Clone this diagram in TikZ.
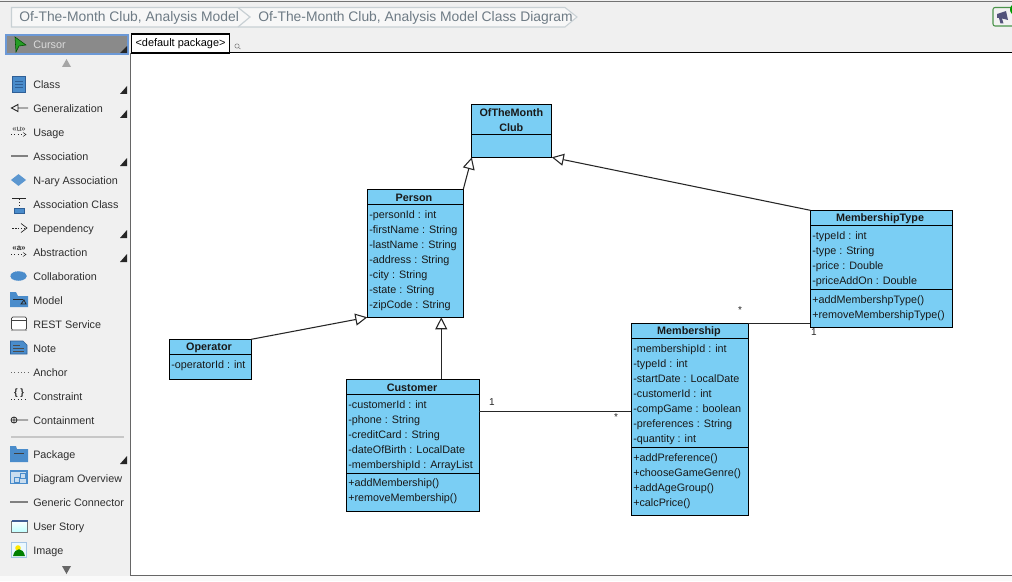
\documentclass[tikz,border=0pt]{standalone}
\usepackage{fontspec}
\setmainfont{Liberation Sans}
\usetikzlibrary{arrows.meta,calc,shapes.geometric}
\definecolor{classfill}{HTML}{7ACEF4}
\definecolor{panel}{HTML}{F0F0F0}
\definecolor{crumb}{HTML}{6E7B85}
\definecolor{crumbline}{HTML}{C8D0D4}
\definecolor{tooltext}{HTML}{2F2F2F}
\definecolor{iconblue}{HTML}{4A8CCB}
\definecolor{icondark}{HTML}{2F5F96}
\definecolor{icongray}{HTML}{808080}
\tikzset{
  x=0.75pt,y=-0.75pt,
  umlbox/.style={draw=black,line width=0.9pt,fill=classfill,anchor=north west,inner sep=0pt,outer sep=0pt},
  umltitle/.style={font=\fontsize{8.1pt}{11.25pt}\selectfont\bfseries,align=center,inner sep=0pt,text=black!90},
  umlattr/.style={font=\fontsize{8.1pt}{11.25pt}\selectfont,align=left,anchor=north west,inner sep=0pt,text=black!90},
  divider/.style={line width=0.75pt,black},
  gen/.style={line width=0.8pt,black!85,-{Triangle[open,fill=white,length=9pt,width=9pt]}},
  assoc/.style={line width=0.75pt,black!85},
  mult/.style={font=\fontsize{7.5pt}{9pt}\selectfont,inner sep=0pt,text=black!85},
  tool/.style={font=\fontsize{8.1pt}{10pt}\selectfont,anchor=west,inner sep=0pt,text=tooltext,text height=6pt,text depth=2pt},
  corner/.style={fill=black!85,draw=none},
  crumbtext/.style={font=\fontsize{10.4pt}{12pt}\selectfont,anchor=west,inner sep=0pt,text=crumb},
  iconline/.style={line width=0.9pt,icongray},
  blackicon/.style={line width=0.6pt,black!85},
  blueicon/.style={fill=iconblue,draw=icondark,line width=0.5pt},
}
\begin{document}
\begin{tikzpicture}
\useasboundingbox (0,0) rectangle (1012,581);
% window
\fill[panel] (0,0) rectangle (1012,581);
\fill[black!2] (0,576) rectangle (1012,581);
\draw[line width=0.9pt,black!55] (0,1.5) -- (1012,1.5);
\fill[white] (131,53) rectangle (1012,575);
\draw[line width=0.9pt,black!60] (130.5,53) -- (130.5,575.5) -- (1012,575.5);
\draw[line width=1.3pt,black] (131,52.5) -- (1012,52.5);
% breadcrumb
\draw[crumbline,line width=0.8pt,fill=black!3] (11.5,7.5) -- (565,7.5) -- (577,17) -- (565,27) -- (11.5,27) -- cycle;
\draw[crumbline,line width=0.9pt] (238,7.5) -- (250,17) -- (238,27);
\node[crumbtext] (crumbA) at (19,18) {Of-The-Month Club, Analysis Model};
\node[crumbtext] (crumbB) at (258,18) {Of-The-Month Club, Analysis Model Class Diagram};
% tab
\node[draw=black,line width=0.8pt,fill=white,anchor=north west,minimum width=73.5pt,minimum height=14.25pt,inner sep=0pt,font=\fontsize{8.2pt}{10pt}\selectfont] (tab) at (131,33.5) {<default package>};
\draw[black!50,line width=0.4pt] (237,46) circle[radius=2.2];
\draw[black!50,line width=0.4pt] (238.5,47.5) -- (240.5,49);
% cursor row
\fill[black!46] (6,35) rectangle (128,54);
\draw[draw=cyan!50!blue!60!white,line width=1.1pt] (6,35) rectangle (128,54);
\fill[green!55!black!85!white,draw=green!30!black,line width=0.4pt] (15,37) -- (26,45) -- (19,46) -- (16,52) -- cycle;
\node[tool,text=black!14] (cursor) at (33,46) {Cursor};
\fill[corner] (127,46) -- (127,53) -- (120,53) -- cycle;
\fill[black!35] (66.5,59) -- (71,67) -- (62,67) -- cycle;
\fill[black!60] (62,566) -- (71,566) -- (66.5,574) -- cycle;
% tool labels
\foreach \nm/\yy/\lab in {tClass/86/Class,tGen/110/Generalization,tUsage/134/Usage,tAssoc/158/Association,tNary/182/N-ary Association,tAC/206/Association Class,tDep/230/Dependency,tAbs/254/Abstraction,tCol/278/Collaboration,tModel/302/Model,tRest/326/REST Service,tNote/350/Note,tAnchor/374/Anchor,tCons/398/Constraint,tCont/422/Containment,tPack/456/Package,tDO/480/Diagram Overview,tGC/504/Generic Connector,tUS/528/User Story,tImg/552/Image}
  {\node[tool] (\nm) at (33,\yy) {\lab};}
% corner markers
\foreach \yy in {94,118,166,238,262,464}
  {\fill[corner] (127,\yy-8) -- (127,\yy) -- (120,\yy) -- cycle;}
% icons
\draw[blueicon] (12.5,76.5) rectangle (25,92);
\draw[icondark,line width=0.4pt] (15,81) -- (23,81) (15,84) -- (23,84) (15,87) -- (23,87);
\draw[blackicon,line width=0.7pt] (11.5,108) -- (18,104.5) -- (18,111.5) -- cycle (18,108) -- (28,108);
\node[inner sep=0pt,font=\fontsize{6pt}{6pt}\selectfont,text=black!80] (iconU) at (19,129.5) {«u»};
\draw[blackicon,dotted] (11,134.5) -- (25,134.5);
\draw[blackicon,line width=0.4pt] (23,132.5) -- (26,134.5) -- (23,136.5);
\draw[iconline] (11,156) -- (28,156);
\node[diamond,aspect=1.2,fill=iconblue!90!white,inner sep=0pt,minimum width=11.5pt,minimum height=9pt] (iconN) at (18.5,180) {};
\draw[blackicon] (12,198.5) -- (26,198.5);
\draw[blackicon,dotted] (19,198.5) -- (19,208);
\draw[blueicon] (14,208.5) rectangle (24,213);
\draw[blackicon,dashed,dash pattern=on 1.2pt off 1pt] (12,228) -- (25,228);
\draw[blackicon,line width=0.5pt] (21,223.5) -- (27,228) -- (21,232.5);
\node[inner sep=0pt,font=\fontsize{6pt}{6pt}\selectfont\bfseries,text=black!80] (iconA) at (19,248.5) {«a»};
\draw[blackicon,dotted] (11,254.5) -- (25,254.5);
\draw[blackicon,line width=0.4pt] (23,252.5) -- (26,254.5) -- (23,256.5);
\node[ellipse,fill=iconblue,draw=iconblue,densely dotted,inner sep=0pt,minimum width=12pt,minimum height=7pt] (iconC) at (18.5,276) {};
\fill[iconblue] (10,292) -- (16,292) -- (18,296) -- (28,296) -- (28,307) -- (10,307) -- cycle;
\draw[blackicon] (13,299.5) -- (23,299.5) (24,300) -- (21,304) -- (26,304) -- cycle;
\draw[black!75,line width=0.5pt,fill=white,rounded corners=1pt] (11.5,317) rectangle (26.5,330);
\draw[black!75,line width=0.4pt] (11.5,320.5) -- (26.5,320.5);
\fill[black!40] (12,330) circle[radius=1] (26,330) circle[radius=1];
\fill[iconblue,draw=icondark,line width=0.4pt] (10.5,341) -- (23,341) -- (27,345) -- (27,354) -- (10.5,354) -- cycle;
\draw[black!70,line width=0.4pt] (13,345) -- (20,345) (13,348) -- (24,348) (13,351) -- (24,351);
\draw[black!60,line width=0.5pt,dotted] (11,372) -- (28,372);
\node[inner sep=0pt,font=\fontsize{7pt}{7pt}\selectfont\bfseries,text=black!85] (iconB) at (19,393.5) {\{ \}};
\draw[blackicon,dotted] (11,399.5) -- (28,399.5);
\draw[blackicon] (14,420) circle[radius=3] (11,420) -- (17,420) (14,417) -- (14,423) (17,420) -- (28,420);
\draw[black!22,line width=1.2pt] (11,437) -- (124,437);
\fill[iconblue] (10,446) -- (16,446) -- (17,449) -- (28,449) -- (28,462) -- (10,462) -- cycle;
\draw[black!75,line width=0.6pt] (14,453) -- (24,453);
\draw[draw=iconblue,fill=iconblue!30!white,line width=0.8pt] (10.5,471) rectangle (27,483.5);
\draw[iconblue,line width=0.4pt] (14,477) rectangle (19,482) (20,473) rectangle (25,478);
\draw[iconline] (10,502) -- (28,502);
\draw[draw=black!55,top color=white,bottom color=cyan!25!white,line width=0.5pt] (11.5,521) rectangle (27.5,532);
\draw[cyan!40!blue!70!black,line width=0.9pt] (11.5,521) -- (27.5,521);
\draw[draw=iconblue!50!white,fill=cyan!8!white,line width=0.7pt] (11.5,542) rectangle (26.5,557);
\fill[yellow!90!orange] (18,548) circle[radius=2.8];
\fill[green!50!black] (13,556) .. controls (15,547) and (23,547) .. (25,556) -- cycle;
% notification icon
\draw[green!40!black!70!white,line width=0.8pt,fill=black!5,rounded corners=1.5pt] (993,7.5) rectangle (1016,26);
\fill[black!55!blue!35!gray] (997,14) -- (1006,11) -- (1008,20) -- (1002,18.5) -- (1003.5,23.5) -- (1000.5,23.5) -- (999,18) -- (997,18) -- cycle;
\fill[green!60!black] (1016,9.5) circle[radius=6];
% classes
\node[umlbox,minimum width=60pt,minimum height=39.75pt] (club) at (471.8,104.3) {};
\draw[divider] (club.west |- 0,134.3) -- (club.east |- 0,134.3);
\node[umltitle] (clubT) at (511.3,120) {OfTheMonth\\Club};

\node[umlbox,minimum width=72pt,minimum height=96pt] (person) at (367.3,189.3) {};
\draw[divider] (person.west |- 0,204.3) -- (person.east |- 0,204.3);
\node[umltitle] (personT) at (414,197.5) {Person};
\node[umlattr] (personA) at (369,210) {-personId : int\\-firstName : String\\-lastName : String\\-address : String\\-city : String\\-state : String\\-zipCode : String};

\node[umlbox,minimum width=106.5pt,minimum height=87.75pt] (mtype) at (810.3,210.3) {};
\draw[divider] (mtype.west |- 0,225.3) -- (mtype.east |- 0,225.3);
\draw[divider] (mtype.west |- 0,289.3) -- (mtype.east |- 0,289.3);
\node[umltitle] (mtypeT) at (880,218.5) {MembershipType};
\node[umlattr] (mtypeA) at (812,231) {-typeId : int\\-type : String\\-price : Double\\-priceAddOn : Double};
\node[umlattr] (mtypeO) at (812,295) {+addMembershpType()\\+removeMembershipType()};

\node[umlbox,minimum width=87.75pt,minimum height=144pt] (member) at (631.3,323.3) {};
\draw[divider] (member.west |- 0,338.3) -- (member.east |- 0,338.3);
\draw[divider] (member.west |- 0,447.3) -- (member.east |- 0,447.3);
\node[umltitle] (memberT) at (689,331.5) {Membership};
\node[umlattr] (memberA) at (633,344) {-membershipId : int\\-typeId : int\\-startDate : LocalDate\\-customerId : int\\-compGame : boolean\\-preferences : String\\-quantity : int};
\node[umlattr] (memberO) at (633,453) {+addPreference()\\+chooseGameGenre()\\+addAgeGroup()\\+calcPrice()};

\node[umlbox,minimum width=61.5pt,minimum height=30pt] (oper) at (169.3,339.3) {};
\draw[divider] (oper.west |- 0,354.3) -- (oper.east |- 0,354.3);
\node[umltitle] (operT) at (209,347.5) {Operator};
\node[umlattr] (operA) at (171,360) {-operatorId : int};

\node[umlbox,minimum width=99.75pt,minimum height=99pt] (cust) at (346.3,379.3) {};
\draw[divider] (cust.west |- 0,394.3) -- (cust.east |- 0,394.3);
\draw[divider] (cust.west |- 0,473.7) -- (cust.east |- 0,473.7);
\node[umltitle] (custT) at (412,387.5) {Customer};
\node[umlattr] (custA) at (348,400) {-customerId : int\\-phone : String\\-creditCard : String\\-dateOfBirth : LocalDate\\-membershipId : ArrayList};
\node[umlattr] (custO) at (348,478.5) {+addMembership()\\+removeMembership()};
% connectors
\draw[gen] (person.north east) -- (club.south west);
\draw[gen] (mtype.north west) -- (club.south east);
\draw[gen] (oper.north east) -- (person.south west);
\coordinate (custTop) at ($(cust.north west)!0.714!(cust.north east)$);
\draw[gen] (custTop) -- (custTop |- person.south);
\coordinate (custRight) at ($(cust.north east)!0.2455!(cust.south east)$);
\draw[assoc] (custRight) -- (custRight -| member.west);
\draw[assoc] (member.north east) -- (member.north east -| mtype.west);
% multiplicities
\node[mult] (m1) at (492,402.5) {1};
\node[mult] (m2) at (616,417.5) {*};
\node[mult] (m3) at (740,310) {*};
\node[mult] (m4) at (814,332.5) {1};
\end{tikzpicture}
\end{document}
